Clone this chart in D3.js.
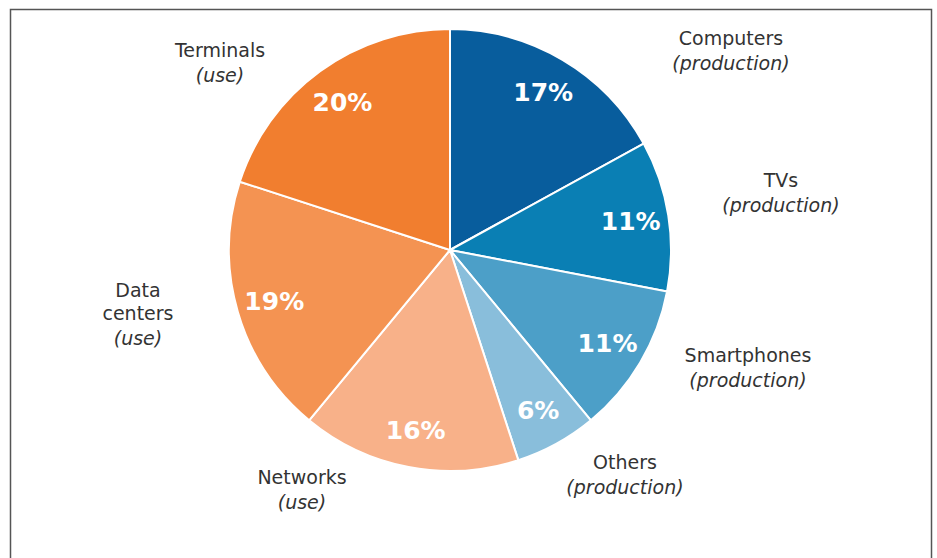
<!DOCTYPE html>
<html>
<head>
<meta charset="utf-8">
<script src="https://cdn.jsdelivr.net/npm/d3@7/dist/d3.min.js"></script>
<style>
  html, body { margin: 0; padding: 0; background: #fff; }
  svg { display: block; }
</style>
</head>
<body>
<svg id="chart" width="937" height="558"></svg>
<script>
// Share of the digital sector's footprint, by source
const categories = ["Computers", "TVs", "Smartphones", "Others", "Networks", "Data centers", "Terminals"];
const phases     = ["production", "production", "production", "production", "use", "use", "use"];
const shares     = [17, 11, 11, 6, 16, 19, 20];
const colors     = ["#085d9d", "#0a7fb4", "#4c9fc8", "#89bedb", "#f8b189", "#f49352", "#f17e2f"];

// Name lines for the outside labels (multi-line where the name wraps)
const nameLines  = [["Computers"], ["TVs"], ["Smartphones"], ["Others"], ["Networks"], ["Data", "centers"], ["Terminals"]];
// Outside label anchors, relative to the pie centre (layout only)
const labelAnchor = [[281, -205], [331, -63], [298, 112], [175, 219], [-148, 234], [-312, 47], [-230, -193]];

const svg = d3.select("#chart");
const W = 937, H = 558;
const cx = 450, cy = 250, R = 221;

// Frame
svg.append("rect")
  .attr("x", 10.5).attr("y", 9.5)
  .attr("width", 921).attr("height", H + 20)
  .attr("fill", "none").attr("stroke", "#555").attr("stroke-width", 1.5);

const g = svg.append("g").attr("transform", `translate(${cx},${cy})`);

const pie = d3.pie().sort(null).value(d => d)(shares);
const arc = d3.arc().innerRadius(0).outerRadius(R);
const labelArc = d3.arc().innerRadius(183).outerRadius(183);

g.selectAll("path.slice")
  .data(pie)
  .join("path")
  .attr("class", "slice")
  .attr("d", arc)
  .attr("fill", (d, i) => colors[i])
  .attr("stroke", "#fff")
  .attr("stroke-width", 2)
  .attr("stroke-linejoin", "round");

// Percent labels inside slices
g.selectAll("text.pct")
  .data(pie)
  .join("text")
  .attr("class", "pct")
  .attr("transform", d => `translate(${labelArc.centroid(d)})`)
  .attr("text-anchor", "middle")
  .attr("dy", "0.36em")
  .attr("font-family", "'DejaVu Sans', Verdana, sans-serif")
  .attr("font-weight", "bold")
  .attr("font-size", 25)
  .attr("fill", "#fff")
  .text(d => d.data + "%");

// Outside category labels
const lh = 23;
categories.forEach((c, i) => {
  const [ax, ay] = labelAnchor[i];
  const lines = nameLines[i];
  const t = g.append("text")
    .attr("text-anchor", "middle")
    .attr("font-family", "'DejaVu Sans', Verdana, sans-serif")
    .attr("font-size", 19)
    .attr("fill", "#333");
  lines.forEach((ln, k) => {
    t.append("tspan").attr("x", ax).attr("y", ay + k * lh).text(ln);
  });
  t.append("tspan")
    .attr("x", ax).attr("y", ay + lines.length * lh + 2)
    .attr("font-style", "italic")
    .text("(" + phases[i] + ")");
});
</script>
</body>
</html>
